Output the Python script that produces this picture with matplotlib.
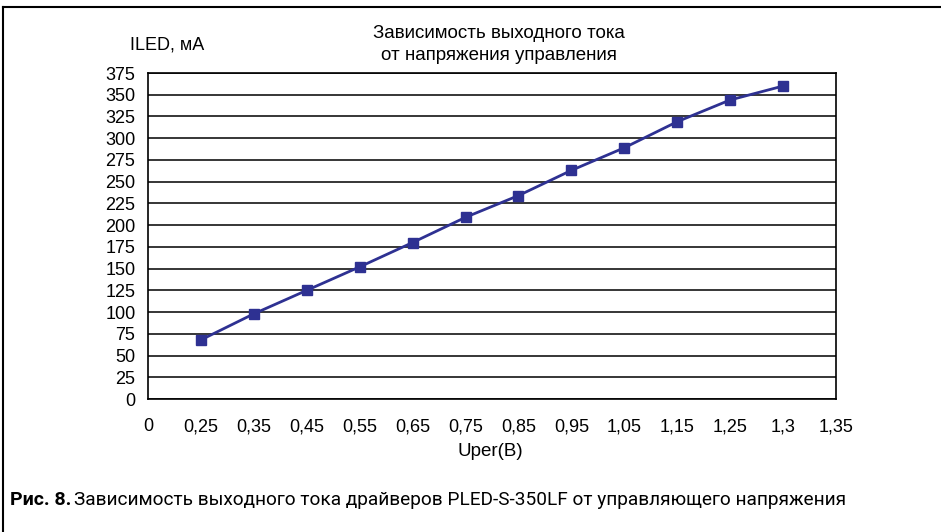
import matplotlib.pyplot as plt
from matplotlib.lines import Line2D

# данные
tick_labels = ['0', '0,25', '0,35', '0,45', '0,55', '0,65', '0,75', '0,85',
               '0,95', '1,05', '1,15', '1,25', '1,3', '1,35']
u_reg = ['0,25', '0,35', '0,45', '0,55', '0,65', '0,75', '0,85',
         '0,95', '1,05', '1,15', '1,25', '1,3']
i_led = [68, 98, 125, 152, 180, 209, 234, 263, 289, 319, 344, 360]
y_ticks = list(range(0, 376, 25))

plt.rcParams['font.family'] = ['Liberation Sans', 'DejaVu Sans']

fig = plt.figure(figsize=(9.41, 5.32), dpi=100)
ax = fig.add_axes([148 / 941, 133 / 532, 688 / 941, 326 / 532])

x_pos = [tick_labels.index(u) for u in u_reg]
ax.plot(x_pos, i_led, color='#2E3192', linewidth=2, marker='s',
        markersize=7, markerfacecolor='#2E3192', markeredgecolor='#2E3192',
        zorder=3)

ax.set_xlim(0, len(tick_labels) - 1)
ax.set_ylim(0, 375)
ax.set_xticks(range(len(tick_labels)))
ax.set_xticklabels(tick_labels)
ax.set_yticks(y_ticks)
ax.grid(axis='y', color='black', linewidth=1.1)
ax.set_axisbelow(True)
ax.tick_params(axis='both', length=0, labelsize=13)
ax.tick_params(axis='x', pad=14)
ax.tick_params(axis='y', pad=9)
for s in ax.spines.values():
    s.set_color('black')
    s.set_linewidth(1.2)

# подписи
fig.text(499 / 941, 1 - 33 / 532, 'Зависимость выходного тока',
         ha='center', va='center', fontsize=13.5)
fig.text(499 / 941, 1 - 55 / 532, 'от напряжения управления',
         ha='center', va='center', fontsize=13.5)
fig.text(167 / 941, 1 - 45 / 532, 'ILED, мА', ha='center', va='center',
         fontsize=13)
fig.text(490 / 941, 1 - 452 / 532, 'Uper(B)', ha='center', va='center',
         fontsize=13.5)
fig.text(10 / 941, 1 - 500 / 532, 'Рис. 8.', ha='left', va='center',
         fontsize=14, fontweight='bold', family=['Roboto', 'DejaVu Sans'])
fig.text(74 / 941, 1 - 500 / 532,
         'Зависимость выходного тока драйверов PLED-S-350LF от управляющего напряжения',
         ha='left', va='center', fontsize=13.7, family=['Roboto', 'DejaVu Sans'])

# рамка
fig.add_artist(Line2D([3 / 941, 1], [1 - 7 / 532, 1 - 7 / 532],
                      color='black', linewidth=1.5))
fig.add_artist(Line2D([3 / 941, 3 / 941], [0, 1 - 7 / 532],
                      color='black', linewidth=1.5))

fig.savefig('out.png', dpi=100)
